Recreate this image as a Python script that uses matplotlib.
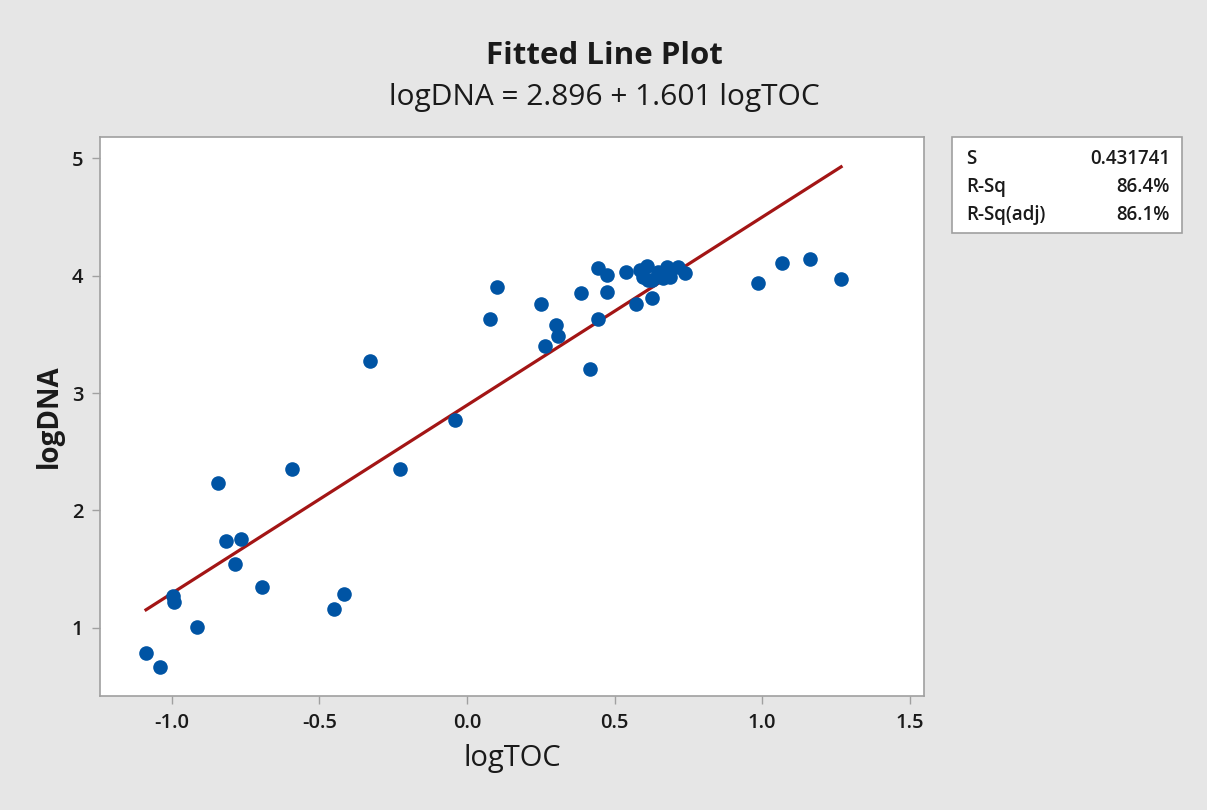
import matplotlib
matplotlib.use("Agg")
import matplotlib.pyplot as plt
import numpy as np
from matplotlib.patches import Rectangle

plt.rcParams['font.family'] = ['Open Sans', 'DejaVu Sans']
plt.rcParams['axes.unicode_minus'] = False

# Data
log_toc = [-1.088, -1.041, -0.997, -0.993, -0.915, -0.845, -0.817, -0.788, -0.765, -0.694,
           -0.594, -0.450, -0.416, -0.328, -0.228, -0.042, 0.079, 0.101, 0.252, 0.265,
           0.302, 0.310, 0.386, 0.416, 0.444, 0.445, 0.474, 0.474, 0.538, 0.574,
           0.586, 0.598, 0.611, 0.615, 0.626, 0.626, 0.649, 0.654, 0.665, 0.677,
           0.688, 0.716, 0.740, 0.988, 1.069, 1.161, 1.268]
log_dna = [0.787, 0.668, 1.272, 1.22, 1.01, 2.23, 1.74, 1.545, 1.755, 1.345,
           2.353, 1.164, 1.292, 3.272, 2.353, 2.768, 3.63, 3.902, 3.757, 3.40,
           3.581, 3.485, 3.849, 3.202, 3.627, 4.066, 4.004, 3.862, 4.027, 3.757,
           4.047, 3.99, 4.084, 3.962, 3.96, 3.806, 4.03, 4.02, 3.976, 4.075,
           3.99, 4.075, 4.024, 3.939, 4.104, 4.138, 3.973]
intercept = 2.896
slope = 1.601
stat_names = ["S", "R-Sq", "R-Sq(adj)"]
stat_values = ["0.431741", "86.4%", "86.1%"]
x_ticks = [-1.0, -0.5, 0.0, 0.5, 1.0, 1.5]
y_ticks = [1, 2, 3, 4, 5]

bg = "#e6e6e6"
txt = "#1a1a1a"
fig = plt.figure(figsize=(12.07, 8.10), dpi=100, facecolor=bg)
ax = fig.add_axes([100/1207, 1-696/810, 824/1207, 559/810])
ax.set_facecolor("white")

xs = np.array(log_toc)
xl = np.linspace(xs.min(), xs.max(), 50)
ax.plot(xl, intercept + slope*xl, color="#a31515", lw=2.3, zorder=2)
ax.plot(log_toc, log_dna, 'o', color="#0054a4", markersize=10.5, markeredgewidth=0, zorder=3)

ax.set_xlim(-1.244, 1.549)
ax.set_ylim(0.42, 5.18)
ax.set_xticks(x_ticks)
ax.set_xticklabels([f"{t:.1f}" for t in x_ticks])
ax.set_yticks(y_ticks)
for s in ax.spines.values():
    s.set_color("#a0a0a0")
    s.set_linewidth(1.2)
ax.tick_params(axis='both', direction='out', color="#a0a0a0", length=6, width=1,
               labelsize=14.5, labelcolor=txt, pad=6)
for lab in ax.get_xticklabels() + ax.get_yticklabels():
    lab.set_fontweight("semibold")

ax.set_xlabel("logTOC", fontsize=21, color=txt, labelpad=8)
ax.set_ylabel("logDNA", fontsize=20, fontweight="bold", color=txt, labelpad=6)

fig.text(604/1207, 1-56/810, "Fitted Line Plot", ha="center", va="center",
         fontsize=22.5, fontweight="bold", color=txt)
fig.text(604/1207, 1-97/810, f"logDNA = {intercept:.3f} + {slope:.3f} logTOC", ha="center",
         va="center", fontsize=21.5, color=txt)

# stats box
fig.patches.append(Rectangle((952/1207, 1-233/810), 230/1207, 96/810, transform=fig.transFigure,
                             facecolor="white", edgecolor="#a0a0a0", lw=1.2))
rows_y = [159, 187, 215]
for name, val, yy in zip(stat_names, stat_values, rows_y):
    fig.text(966/1207, 1-yy/810, name, ha="left", va="center", fontsize=13.5,
             fontweight="semibold", color=txt)
    fig.text(1170/1207, 1-yy/810, val, ha="right", va="center", fontsize=13.5,
             fontweight="semibold", color=txt)

fig.savefig("out.png", dpi=100, facecolor=bg)
